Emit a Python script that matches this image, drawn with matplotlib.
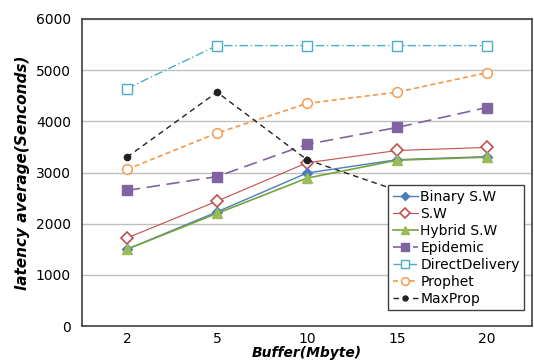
import matplotlib.pyplot as plt

buffers = ['2', '5', '10', '15', '20']
binary_sw = [1500, 2230, 2990, 3250, 3310]
sw = [1720, 2440, 3190, 3430, 3490]
hybrid_sw = [1500, 2200, 2890, 3240, 3300]
epidemic = [2650, 2920, 3550, 3880, 4270]
direct_delivery = [4640, 5480, 5480, 5480, 5480]
prophet = [3060, 3770, 4350, 4570, 4950]
maxprop = [3300, 4570, 3250, 2650, 2450]

fig = plt.figure(figsize=(5.34, 3.6), dpi=100)
ax = fig.add_axes([82/534, 1 - 326/360, 450/534, 307/360])

x = range(len(buffers))
ax.plot(x, binary_sw, color='#4a7ebb', marker='D', markersize=5, lw=1, label='Binary S.W', zorder=5)
ax.plot(x, sw, color='#c0504d', marker='D', markersize=6, mfc='white', mew=1.2, lw=0.8, label='S.W')
ax.plot(x, hybrid_sw, color='#77a33c', marker='^', markersize=7, mfc='#9bbb59', mec='#9bbb59', lw=1.2, label='Hybrid S.W', zorder=6)
ax.plot(x, epidemic, color='#8064a2', marker='s', markersize=7, lw=1.2, dashes=(8, 4), label='Epidemic')
ax.plot(x, direct_delivery, color='#4bacc6', marker='s', markersize=7, mfc='white', mew=1, lw=1, dashes=(6, 2, 1, 2), label='DirectDelivery')
ax.plot(x, prophet, color='#f79646', marker='o', markersize=7, mfc='white', mew=1, lw=1.2, dashes=(3, 2), label='Prophet')
ax.plot(x, maxprop, color='#222222', marker='o', markersize=4.5, lw=1, dashes=(4, 3), label='MaxProp')

ax.set_xlim(-0.5, 4.5)
ax.set_ylim(0, 6000)
ax.set_xticks(list(x))
ax.set_xticklabels(buffers)
ax.set_yticks(range(0, 6001, 1000))
ax.tick_params(length=0, labelsize=10, pad=8)
ax.tick_params(axis='x', pad=4)
ax.grid(axis='y', color='#bfbfbf', lw=1)
ax.set_axisbelow(True)
for s in ax.spines.values():
    s.set_color('#404040')
    s.set_linewidth(1.2)

ax.set_ylabel('latency average(Senconds)', fontsize=11, fontstyle='italic', fontweight='bold')
ax.set_xlabel('Buffer(Mbyte)', fontsize=10, fontstyle='italic', fontweight='bold', labelpad=0)

leg = ax.legend(loc='lower right', bbox_to_anchor=(524/534, 1 - 310/360), bbox_transform=fig.transFigure,
                fontsize=10, frameon=True, fancybox=False, framealpha=1, handlelength=1.8,
                handletextpad=0.2, borderpad=0.3, labelspacing=0.22, borderaxespad=0, markerscale=0.8)
leg.get_frame().set_edgecolor('#404040')
leg.get_frame().set_linewidth(1)
leg.set_zorder(10)

fig.savefig('out.png', dpi=100)
